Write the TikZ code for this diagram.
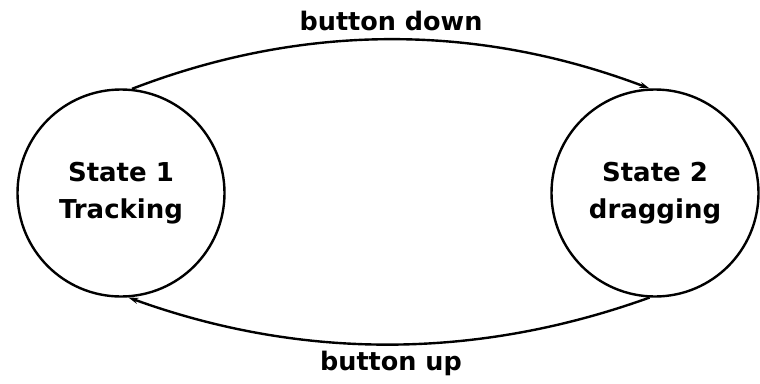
\documentclass[tikz,border=0pt]{standalone}
\usepackage{fontspec}
\setmainfont{DejaVu Sans}
\usetikzlibrary{arrows.meta}
\begin{document}
\begin{tikzpicture}[x=1pt,y=-1pt,
  statenode/.style={circle,draw,line width=2.4pt,minimum size=207pt,inner sep=0pt,
    align=center,font=\fontsize{26}{37}\selectfont\bfseries},
  edgelabel/.style={font=\fontsize{25.5}{30}\selectfont\bfseries},
  trans/.style={line width=2.4pt,-{Stealth[length=10pt,width=6pt]}}]
\useasboundingbox (0,0) rectangle (760,383);
\node[statenode] (L) at (121,193) {State 1\\Tracking};
\node[statenode] (R) at (655,193) {State 2\\dragging};
\draw[trans] (L.84) .. controls (303,23) and (477,23) .. (R.93);
\draw[trans] (R.-93) .. controls (476,360) and (301,360) .. (L.-86);
\node[edgelabel] (bd) at (391,21) {button down};
\node[edgelabel] (bu) at (391,363) {button up};
\end{tikzpicture}
\end{document}
